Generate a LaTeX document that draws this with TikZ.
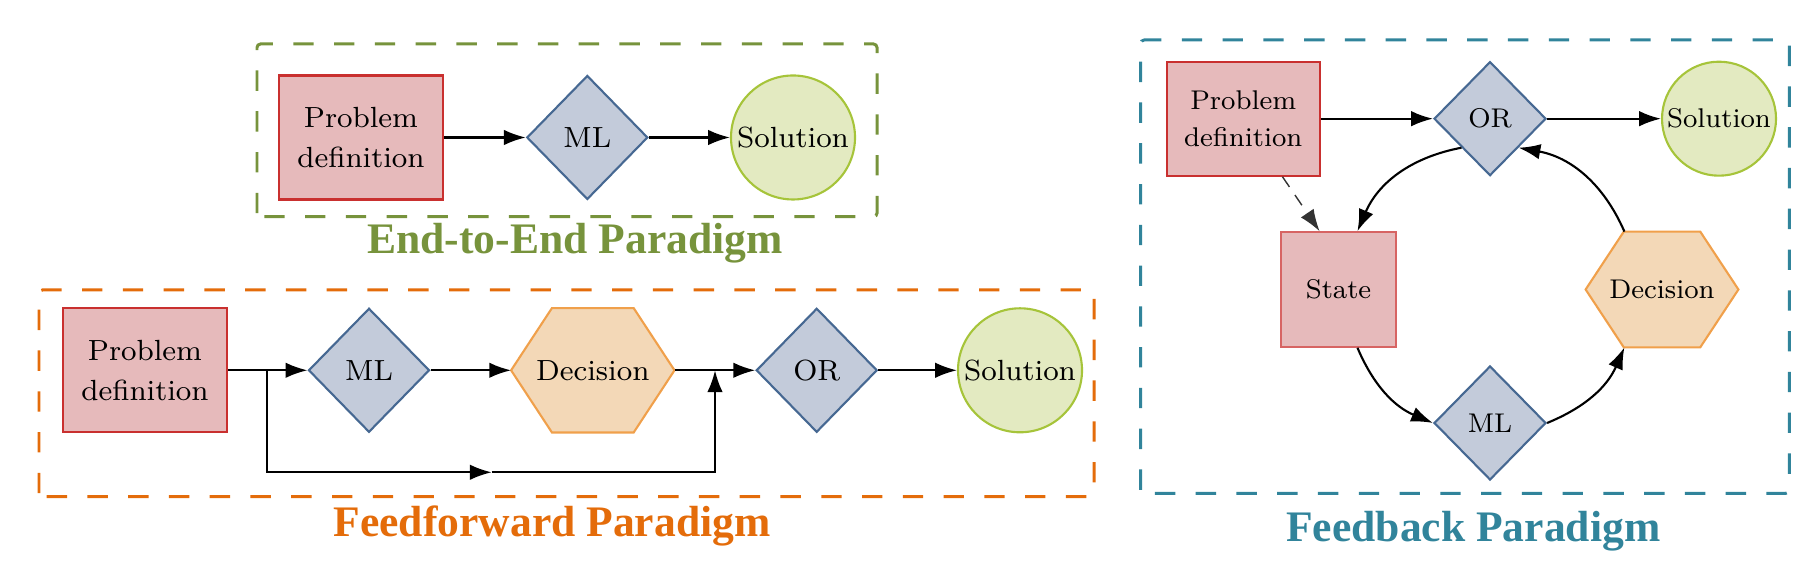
\documentclass[tikz,border=0pt]{standalone}
\usepackage{fontspec}
\usepackage{xcolor}
\usepackage{tikz}
\usetikzlibrary{calc, positioning, shapes.geometric, arrows.meta, backgrounds}
\newfontfamily\titlefont{Liberation Serif}

\definecolor{e2egreen}{HTML}{77933C}
\definecolor{fforange}{HTML}{E46C0A}
\definecolor{fbteal}{HTML}{31849B}
\definecolor{probfill}{HTML}{E6BABB}
\definecolor{probdraw}{HTML}{C9302F}
\definecolor{mlfill}{HTML}{C3CBDA}
\definecolor{mldraw}{HTML}{466892}
\definecolor{decfill}{HTML}{F3D8B7}
\definecolor{decdraw}{HTML}{F0A04B}
\definecolor{solfill}{HTML}{E3EAC1}
\definecolor{soldraw}{HTML}{A6C43A}

\newcommand{\nodefont}{\fontsize{8.3}{11.4}\selectfont}
\newcommand{\fbnodefont}{\fontsize{7.7}{10.7}\selectfont}
% hexagon drawn round a plain rectangle node
\newcommand{\hexaround}[1]{%
  \filldraw[hexline] (#1.west)
    -- ($(#1.north west)!0.25!(#1.north east)$)
    -- ($(#1.north west)!0.75!(#1.north east)$)
    -- (#1.east)
    -- ($(#1.south west)!0.75!(#1.south east)$)
    -- ($(#1.south west)!0.25!(#1.south east)$) -- cycle;}

\tikzset{
  probnode/.style={rectangle, draw=probdraw, fill=probfill, line width=0.6pt,
    minimum width=1.64cm, minimum height=1.24cm, inner sep=0pt, align=center, font=\nodefont},
  diamnode/.style={diamond, draw=mldraw, fill=mlfill, line width=0.6pt,
    minimum width=1.21cm, minimum height=1.24cm, inner sep=0pt, font=\nodefont},
  hexnode/.style={rectangle, minimum width=1.62cm, minimum height=1.23cm,
    inner sep=0pt, font=\nodefont},
  hexline/.style={draw=decdraw, fill=decfill, line width=0.6pt},
  solnode/.style={circle, draw=soldraw, fill=solfill, line width=0.6pt,
    minimum size=1.24cm, inner sep=0pt, font=\nodefont},
  conn/.style={-{Latex[length=6.2pt, width=4.4pt]}, line width=0.6pt},
  paradigm/.style={dash pattern=on 5.8pt off 5.8pt, line width=0.85pt, rounded corners=1pt},
  paradigmtitle/.style={anchor=base, font=\titlefont\bfseries\fontsize{12.4}{14}\selectfont},
}

\begin{document}
\begin{tikzpicture}
		\useasboundingbox (0, 0) rectangle (18.11, 5.78);

		% end-to-end
		\draw[paradigm, e2egreen] (2.57, 3.613) rectangle (8.77, 5.34);
		\node[probnode] (e2eprob) at (3.61, 4.405) {Problem\\definition};
		\node[diamnode] (e2eml) at (5.873, 4.405) {ML};
		\node[solnode] (e2esol) at (7.93, 4.405) {Solution};
		\draw[conn] (e2eprob) -- (e2eml);
		\draw[conn] (e2eml) -- (e2esol);
		\node[paradigmtitle, text=e2egreen] (e2etitle) at (5.75, 3.247) {End-to-End Paradigm};

		% feedforward
		\draw[paradigm, fforange] (0.39, 0.813) rectangle (10.94, 2.88);
		\node[probnode] (ffprob) at (1.45, 2.077) {Problem\\definition};
		\node[diamnode] (ffml) at (3.69, 2.077) {ML};
		\node[hexnode] (ffdec) at (5.928, 2.077) {Decision};
		\node[diamnode] (ffor) at (8.167, 2.077) {OR};
		\node[solnode] (ffsol) at (10.20, 2.077) {Solution};
		\coordinate (ffsplit) at (2.667, 2.077);
		\coordinate (ffbot) at (4.917, 1.057);
		\coordinate (ffjoin) at (7.15, 2.077);
		\draw[conn] (ffprob) -- (ffml);
		\draw[conn] (ffml) -- (ffdec);
		\draw[conn] (ffdec) -- (ffor);
		\draw[conn] (ffor) -- (ffsol);
		\draw[conn] (ffsplit) |- (ffbot);
		\draw[conn] (ffbot) -| (ffjoin);
		\node[paradigmtitle, text=fforange] (fftitle) at (5.52, 0.413) {Feedforward Paradigm};

		% feedback
		\draw[paradigm, fbteal] (11.407, 0.847) rectangle (17.893, 5.38);
		\node[probnode, minimum width=1.533cm, minimum height=1.14cm, font=\fbnodefont] (fbprob) at (12.433, 4.593) {Problem\\definition};
		\node[diamnode, minimum width=1.12cm, minimum height=1.14cm, font=\fbnodefont] (fbor) at (14.90, 4.593) {OR};
		\node[solnode, minimum size=1.14cm, font=\fbnodefont] (fbsol) at (17.19, 4.593) {Solution};
		\node[probnode, draw=probdraw!75, minimum width=1.15cm, minimum height=1.145cm, font=\fbnodefont] (fbstate) at (13.385, 2.885) {State};
		\node[hexnode, minimum width=1.514cm, minimum height=1.144cm, font=\fbnodefont] (fbdec) at (16.62, 2.885) {Decision};
		\node[diamnode, minimum width=1.12cm, minimum height=1.14cm, font=\fbnodefont] (fbml) at (14.90, 1.55) {ML};
		\draw[conn] (fbprob) -- (fbor);
		\draw[conn] (fbor) -- (fbsol);
		\draw[conn, dash pattern=on 3.5pt off 2.8pt, line width=0.4pt, black!80] (fbprob.-56) -- (fbstate.108.6);
		\draw[conn] (fbor.south west) to[bend right=28] (fbstate.72);
		\draw[conn] (fbstate.-72) to[bend right=22] (fbml.west);
		\draw[conn] (fbml.east) to[bend right=22] (fbdec.-123.5);
		\draw[conn] (fbdec.123.5) to[bend right=28] (fbor.south east);
		\node[paradigmtitle, text=fbteal] (fbtitle) at (14.733, 0.363) {Feedback Paradigm};

		\begin{scope}[on background layer]
			\hexaround{ffdec}
			\hexaround{fbdec}
		\end{scope}
	\end{tikzpicture}
\end{document}
